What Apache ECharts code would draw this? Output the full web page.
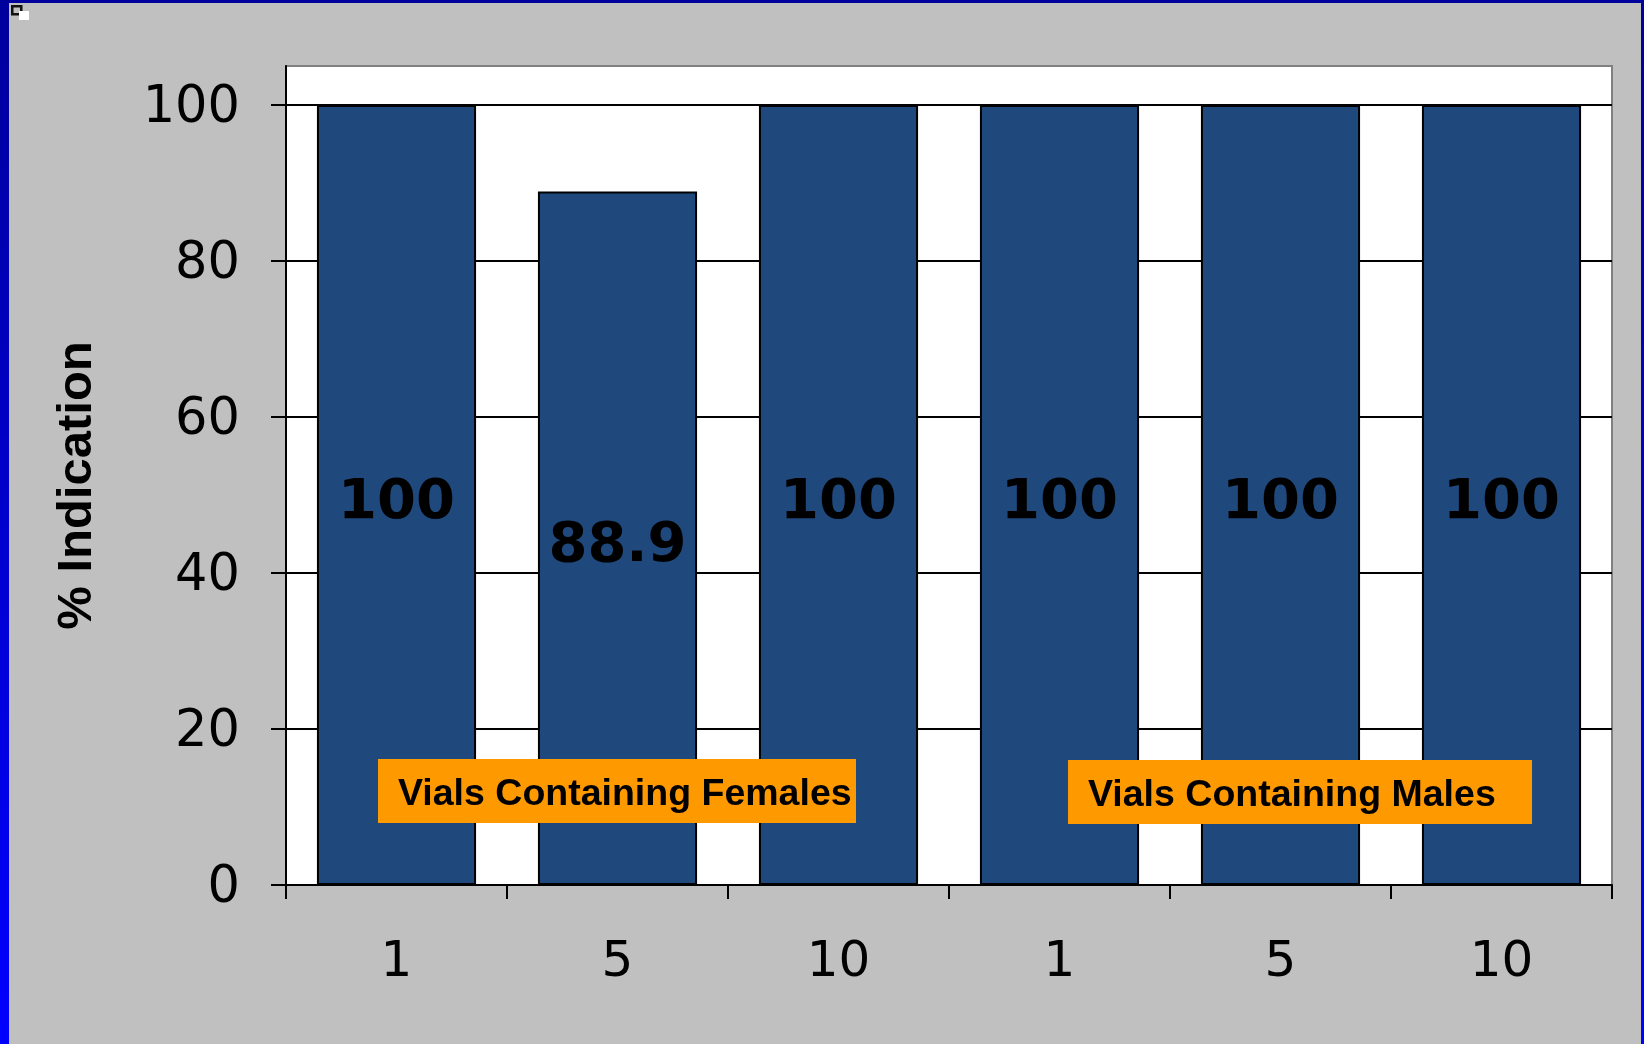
<!DOCTYPE html>
<html>
<head>
<meta charset="utf-8">
<script src="https://cdn.jsdelivr.net/npm/echarts@6/dist/echarts.min.js"></script>
<style>
html,body{margin:0;padding:0;background:#C0C0C0;}
#c{width:1644px;height:1044px;}
</style>
</head>
<body>
<div id="c"></div>
<script>
const categories = ['1', '5', '10', '1', '5', '10'];
const values = [100, 88.9, 100, 100, 100, 100];
const yTicks = [0, 20, 40, 60, 80, 100];
const yAxisTitle = '% Indication';
const groupLabels = ['Vials Containing Females', 'Vials Containing Males'];

const chart = echarts.init(document.getElementById('c'), null, {renderer: 'canvas'});

const option = {
  backgroundColor: '#C0C0C0',
  animation: false,
  grid: {
    left: 286, right: 32, top: 66, bottom: 159,
    show: true,
    backgroundColor: '#FFFFFF',
    borderColor: '#808080',
    borderWidth: 2
  },
  xAxis: {
    type: 'category',
    data: categories,
    boundaryGap: true,
    axisLine: {show: true, lineStyle: {color: '#000', width: 2}},
    axisTick: {show: true, length: 14, lineStyle: {color: '#000', width: 2}},
    axisLabel: {
      color: '#000', fontFamily: 'DejaVu Sans', fontSize: 50, margin: 53
    },
    splitLine: {show: false}
  },
  yAxis: {
    type: 'value',
    min: 0, max: 105,
    name: yAxisTitle,
    nameLocation: 'middle',
    nameGap: 184,
    nameRotate: 90,
    nameTextStyle: {
      color: '#000', fontFamily: 'Liberation Sans', fontWeight: 'bold', fontSize: 49,
      padding: [0, 20, 0, 0]
    },
    axisLine: {show: true, lineStyle: {color: '#000', width: 2}},
    axisTick: {show: true, length: 15, lineStyle: {color: '#000', width: 2}, customValues: yTicks},
    axisLabel: {
      color: '#000', fontFamily: 'DejaVu Sans', fontSize: 51, margin: 46,
      customValues: yTicks,
      formatter: '{v|{value}}',
      rich: {v: {fontFamily: 'DejaVu Sans', fontSize: 51, color: '#000', lineHeight: 51, padding: [7, 0, 0, 0]}}
    },
    splitLine: {show: true, lineStyle: {color: '#000', width: 2}}
  },
  series: [{
    type: 'bar',
    data: values,
    barCategoryGap: '28%',
    itemStyle: {color: '#1F497D', borderColor: '#000', borderWidth: 2},
    label: {
      show: true, position: 'inside',
      color: '#000', fontFamily: 'DejaVu Sans', fontWeight: 'bold', fontSize: 56,
      offset: [0, 8]
    }
  }],
  graphic: [
    // window frame
    {type: 'rect', left: 0, top: 0, shape: {width: 9, height: 1044},
      style: {fill: new echarts.graphic.LinearGradient(0, 0, 0, 1, [{offset: 0, color: '#00009C'}, {offset: 1, color: '#0000FF'}])}},
    {type: 'rect', left: 0, top: 0, shape: {width: 1644, height: 3}, style: {fill: '#00009C'}},
    {type: 'rect', left: 1641, top: 0, shape: {width: 3, height: 1044},
      style: {fill: new echarts.graphic.LinearGradient(0, 0, 0, 1, [{offset: 0, color: '#00009C'}, {offset: 1, color: '#0000FF'}])}},
    {type: 'rect', left: 11, top: 5, shape: {width: 9, height: 8}, style: {fill: '#C0C0C0', stroke: '#111', lineWidth: 2.5}},
    {type: 'rect', left: 19, top: 11, shape: {width: 10, height: 9}, style: {fill: '#FFFFFF'}},
    // group annotation boxes
    {type: 'rect', left: 378, top: 759, shape: {width: 478, height: 64}, style: {fill: '#FF9900'}, z: 100},
    {type: 'text', left: 398, top: 776, z: 101,
      style: {text: groupLabels[0], fill: '#000', font: 'bold 37.5px "Liberation Sans"'}},
    {type: 'rect', left: 1068, top: 760, shape: {width: 464, height: 64}, style: {fill: '#FF9900'}, z: 100},
    {type: 'text', left: 1088, top: 777, z: 101,
      style: {text: groupLabels[1], fill: '#000', font: 'bold 37.5px "Liberation Sans"'}}
  ]
};
chart.setOption(option);
</script>
</body>
</html>
